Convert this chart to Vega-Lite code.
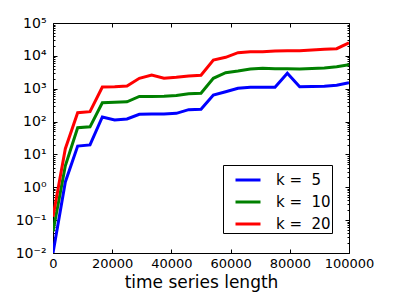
{
  "$schema": "https://vega.github.io/schema/vega-lite/v6.json",
  "width": 296,
  "height": 230,
  "autosize": "none",
  "padding": {"left": 53, "top": 23, "right": 58, "bottom": 52},
  "background": "white",
  "config": {
    "view": {"stroke": "black", "strokeWidth": 1},
    "font": "DejaVu Sans",
    "axis": {"grid": false, "domain": false, "tickColor": "black", "labelColor": "black", "titleColor": "black", "labelFont": "DejaVu Sans", "titleFont": "DejaVu Sans"}
  },
  "datasets": {
    "runs": [
      {"length": 0, "k": 5, "time": 0.01},
      {"length": 4167, "k": 5, "time": 1.45},
      {"length": 8333, "k": 5, "time": 18},
      {"length": 12500, "k": 5, "time": 19.5},
      {"length": 16667, "k": 5, "time": 138},
      {"length": 20833, "k": 5, "time": 112},
      {"length": 25000, "k": 5, "time": 120},
      {"length": 29167, "k": 5, "time": 166},
      {"length": 33333, "k": 5, "time": 170},
      {"length": 37500, "k": 5, "time": 170},
      {"length": 41667, "k": 5, "time": 178},
      {"length": 45833, "k": 5, "time": 230},
      {"length": 50000, "k": 5, "time": 236},
      {"length": 54167, "k": 5, "time": 644},
      {"length": 58333, "k": 5, "time": 811},
      {"length": 62500, "k": 5, "time": 1030},
      {"length": 66667, "k": 5, "time": 1100},
      {"length": 70833, "k": 5, "time": 1100},
      {"length": 75000, "k": 5, "time": 1100},
      {"length": 79167, "k": 5, "time": 2940},
      {"length": 83333, "k": 5, "time": 1150},
      {"length": 87500, "k": 5, "time": 1160},
      {"length": 91667, "k": 5, "time": 1180},
      {"length": 95833, "k": 5, "time": 1270},
      {"length": 100000, "k": 5, "time": 1520},
      {"length": 0, "k": 10, "time": 0.045},
      {"length": 4167, "k": 10, "time": 4.5},
      {"length": 8333, "k": 10, "time": 65},
      {"length": 12500, "k": 10, "time": 69},
      {"length": 16667, "k": 10, "time": 375},
      {"length": 20833, "k": 10, "time": 390},
      {"length": 25000, "k": 10, "time": 400},
      {"length": 29167, "k": 10, "time": 580},
      {"length": 33333, "k": 10, "time": 580},
      {"length": 37500, "k": 10, "time": 590},
      {"length": 41667, "k": 10, "time": 620},
      {"length": 45833, "k": 10, "time": 705},
      {"length": 50000, "k": 10, "time": 725},
      {"length": 54167, "k": 10, "time": 2075},
      {"length": 58333, "k": 10, "time": 3070},
      {"length": 62500, "k": 10, "time": 3460},
      {"length": 66667, "k": 10, "time": 3980},
      {"length": 70833, "k": 10, "time": 4180},
      {"length": 75000, "k": 10, "time": 4070},
      {"length": 79167, "k": 10, "time": 4050},
      {"length": 83333, "k": 10, "time": 3980},
      {"length": 87500, "k": 10, "time": 4100},
      {"length": 91667, "k": 10, "time": 4300},
      {"length": 95833, "k": 10, "time": 4680},
      {"length": 100000, "k": 10, "time": 5380},
      {"length": 0, "k": 20, "time": 0.127},
      {"length": 4167, "k": 20, "time": 15},
      {"length": 8333, "k": 20, "time": 186},
      {"length": 12500, "k": 20, "time": 200},
      {"length": 16667, "k": 20, "time": 1130},
      {"length": 20833, "k": 20, "time": 1150},
      {"length": 25000, "k": 20, "time": 1210},
      {"length": 29167, "k": 20, "time": 2075},
      {"length": 33333, "k": 20, "time": 2610},
      {"length": 37500, "k": 20, "time": 2075},
      {"length": 41667, "k": 20, "time": 2220},
      {"length": 45833, "k": 20, "time": 2440},
      {"length": 50000, "k": 20, "time": 2560},
      {"length": 54167, "k": 20, "time": 7480},
      {"length": 58333, "k": 20, "time": 9040},
      {"length": 62500, "k": 20, "time": 12500},
      {"length": 66667, "k": 20, "time": 13400},
      {"length": 70833, "k": 20, "time": 13400},
      {"length": 75000, "k": 20, "time": 14060},
      {"length": 79167, "k": 20, "time": 14300},
      {"length": 83333, "k": 20, "time": 14300},
      {"length": 87500, "k": 20, "time": 15070},
      {"length": 91667, "k": 20, "time": 15850},
      {"length": 95833, "k": 20, "time": 16500},
      {"length": 100000, "k": 20, "time": 25100}
    ]
  },
  "data": {"name": "runs"},
  "layer": [
    {
      "mark": {"type": "line", "strokeWidth": 3, "clip": true},
      "encoding": {
        "x": {
          "field": "length", "type": "quantitative",
          "scale": {"domain": [0, 100000], "nice": false, "zero": false},
          "axis": {
            "orient": "bottom", "values": [0, 20000, 40000, 60000, 80000, 100000],
            "format": "d", "labelFontSize": 13, "tickSize": -4, "labelPadding": 8,
            "labelFlush": false, "labelOverlap": false,
            "title": "time series length", "titleFontSize": 17, "titleFontWeight": "normal", "titlePadding": 4
          }
        },
        "y": {
          "field": "time", "type": "quantitative",
          "scale": {"type": "log", "domain": [0.01, 100000], "nice": false},
          "axis": {
            "orient": "left", "title": null,
            "values": [0.01, 0.02, 0.03, 0.04, 0.05, 0.06, 0.07, 0.08, 0.09, 0.1, 0.2, 0.3, 0.4, 0.5, 0.6, 0.7, 0.8, 0.9, 1, 2, 3, 4, 5, 6, 7, 8, 9, 10, 20, 30, 40, 50, 60, 70, 80, 90, 100, 200, 300, 400, 500, 600, 700, 800, 900, 1000, 2000, 3000, 4000, 5000, 6000, 7000, 8000, 9000, 10000, 20000, 30000, 40000, 50000, 60000, 70000, 80000, 90000, 100000],
            "labelExpr": "abs(log(datum.value)/LN10 - round(log(datum.value)/LN10)) < 0.001 ? '10' + ['⁻²','⁻¹','⁰','¹','²','³','⁴','⁵'][round(log(datum.value)/LN10) + 2] : ''",
            "labelFontSize": 14, "labelOverlap": false, "labelFlush": false, "labelPadding": 11,
            "tickSize": {"condition": {"test": "abs(log(datum.value)/LN10 - round(log(datum.value)/LN10)) < 0.001", "value": -4}, "value": -2}
          }
        },
        "color": {
          "field": "k", "type": "nominal",
          "scale": {"domain": [5, 10, 20], "range": ["#0000ff", "#008000", "#ff0000"]},
          "legend": {
            "orient": "none", "legendX": 170, "legendY": 142, "title": null,
            "strokeColor": "black", "fillColor": "white", "padding": 1,
            "symbolOffset": 10,
            "symbolType": "stroke", "symbolSize": 625, "symbolStrokeWidth": 3,
            "labelFontSize": 15, "labelOffset": 14, "rowPadding": 0,
            "labelExpr": "'k =\u00a0\u00a0' + datum.label + '\u00a0\u00a0'", "labelColor": "black", "cornerRadius": 0
          }
        }
      }
    },
    {
      "mark": {"type": "line", "strokeOpacity": 0, "clip": true},
      "encoding": {
        "x": {
          "field": "length", "type": "quantitative",
          "axis": {"orient": "top", "values": [0, 20000, 40000, 60000, 80000, 100000], "labels": false, "tickSize": -4, "title": null}
        },
        "y": {
          "field": "time", "type": "quantitative",
          "axis": {
            "orient": "right", "title": null, "labels": false,
            "values": [0.01, 0.02, 0.03, 0.04, 0.05, 0.06, 0.07, 0.08, 0.09, 0.1, 0.2, 0.3, 0.4, 0.5, 0.6, 0.7, 0.8, 0.9, 1, 2, 3, 4, 5, 6, 7, 8, 9, 10, 20, 30, 40, 50, 60, 70, 80, 90, 100, 200, 300, 400, 500, 600, 700, 800, 900, 1000, 2000, 3000, 4000, 5000, 6000, 7000, 8000, 9000, 10000, 20000, 30000, 40000, 50000, 60000, 70000, 80000, 90000, 100000],
            "tickSize": {"condition": {"test": "abs(log(datum.value)/LN10 - round(log(datum.value)/LN10)) < 0.001", "value": -4}, "value": -2}
          }
        },
        "detail": {"field": "k", "type": "nominal"}
      }
    }
  ],
  "resolve": {"scale": {"x": "shared", "y": "shared"}, "axis": {"x": "independent", "y": "independent"}}
}
